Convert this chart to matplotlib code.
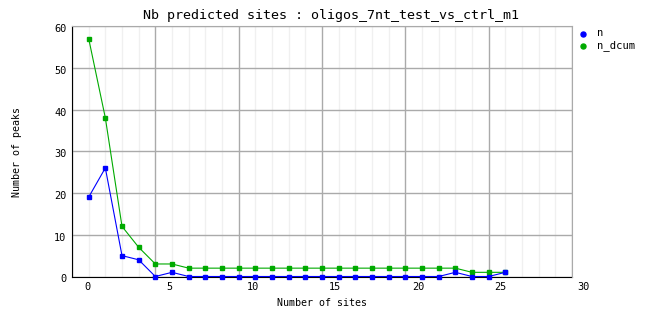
import numpy as np
import matplotlib
matplotlib.use("Agg")
import matplotlib.pyplot as plt
import matplotlib.transforms as mtransforms
from matplotlib.lines import Line2D

# data
sites = list(range(26))
n = [19, 26, 5, 4, 0, 1, 0, 0, 0, 0, 0, 0, 0, 0, 0, 0,
     0, 0, 0, 0, 0, 0, 1, 0, 0, 1]
n_dcum = [57, 38, 12, 7, 3, 3, 2, 2, 2, 2, 2, 2, 2, 2, 2, 2,
          2, 2, 2, 2, 2, 2, 2, 1, 1, 1]
series_names = ["n", "n_dcum"]
x_labels = [0, 5, 10, 15, 20, 25, 30]
y_ticks = [0, 10, 20, 30, 40, 50, 60]

title = "Nb predicted sites : oligos_7nt_test_vs_ctrl_m1"
blue = "#0000ff"
green = "#00aa00"
mono = "DejaVu Sans Mono"

W, H = 662, 328
fig = plt.figure(figsize=(W / 100, H / 100), dpi=100)
ax = fig.add_axes([72 / W, 1 - 276.5 / H, 500 / W, 250.5 / H])

ax.set_xlim(-1, 29)
ax.set_ylim(0, 60)

# grid: faint minor lines at every site, gray major lines every 5 (offset by one)
ax.set_xticks(np.arange(-1, 30, 5))
ax.set_xticks(np.arange(0, 29, 1), minor=True)
ax.set_yticks(y_ticks)
ax.grid(True, which="major", color="#aaaaaa", lw=1.0)
ax.grid(True, which="minor", axis="x", color="#f0f0f0", lw=1.0)
ax.set_axisbelow(True)
ax.tick_params(which="both", length=0)
ax.set_xticklabels([])
ax.set_yticklabels([str(v) for v in y_ticks], family=mono, fontsize=7.4)
ax.tick_params(axis="y", pad=4)
off = mtransforms.ScaledTranslation(0, -2 / 100, fig.dpi_scale_trans)
for lab in ax.get_yticklabels():
    lab.set_transform(lab.get_transform() + off)

for v in x_labels:
    ax.text(v * 0.993 - 0.1, -10.5 / 250.5 * 60, str(v), ha="center", va="center",
            family=mono, fontsize=7.4, clip_on=False)

for side in ["top", "right"]:
    ax.spines[side].set_color("#aaaaaa")
for side in ["left", "bottom"]:
    ax.spines[side].set_color("black")
    ax.spines[side].set_zorder(1)

ax.plot(sites, n_dcum, color=green, lw=0.8, marker="s", ms=3.0, zorder=3, clip_on=False)
ax.plot(sites, n, color=blue, lw=0.8, marker="s", ms=3.0, zorder=4, clip_on=False)

fig.text(331 / W, 1 - 15 / H, title, ha="center", va="center", family=mono, fontsize=9.6)
fig.text(322 / W, 1 - 303 / H, "Number of sites", ha="center", va="center",
         family=mono, fontsize=7.2)
fig.text(17 / W, 1 - 152 / H, "Number of peaks", ha="center", va="center",
         rotation=90, family=mono, fontsize=7.2)

# legend
for name, col, yy in zip(series_names, [blue, green], [33.5, 46]):
    fig.add_artist(Line2D([583 / W], [1 - yy / H], marker="o", ms=3.6, color=col,
                          transform=fig.transFigure))
    fig.text(596.5 / W, 1 - yy / H, name, ha="left", va="center", family=mono, fontsize=7.6)

fig.savefig("out.png", dpi=100)
